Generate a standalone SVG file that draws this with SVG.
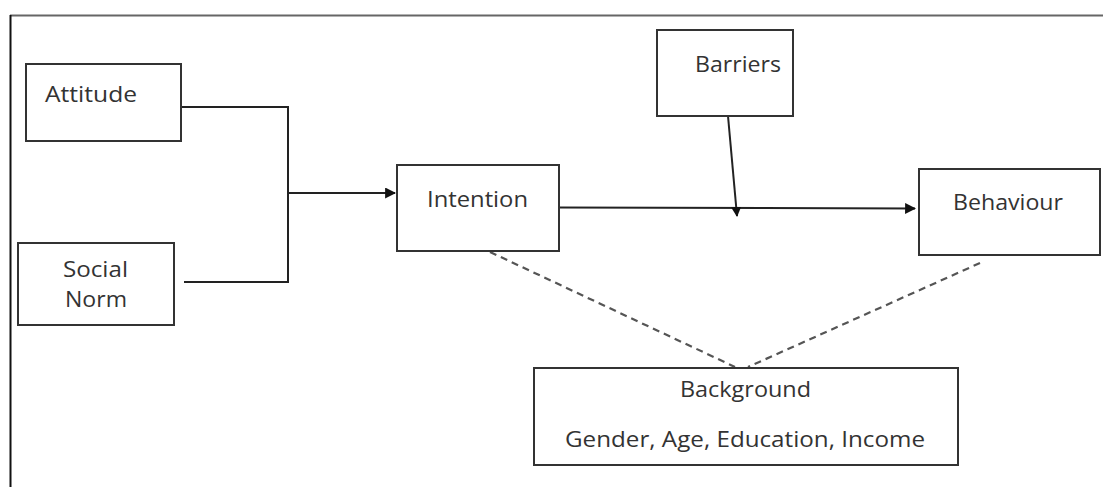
<svg xmlns="http://www.w3.org/2000/svg" width="1103" height="487" viewBox="0 0 1103 487">
<style>
.box{fill:#fff;stroke:#333;stroke-width:2}
.t{font-family:"Open Sans","Liberation Sans",sans-serif;font-size:21px;fill:#333}
.c{fill:none;stroke:#222;stroke-width:2}
.d{fill:none;stroke:#555;stroke-width:2.2;stroke-dasharray:7,5}
</style>
<defs>
<marker id="ah" viewBox="0 0 10 10" refX="9" refY="5" markerWidth="10" markerHeight="10" markerUnits="userSpaceOnUse" orient="auto">
<path d="M0,0 L10,5 L0,10 z" fill="#111"/>
</marker>
<marker id="ah2" viewBox="0 0 10 10" refX="9" refY="5" markerWidth="11" markerHeight="11" markerUnits="userSpaceOnUse" orient="auto">
<path d="M0,0 L10,5 L0,10 z" fill="#111"/>
</marker>
</defs>
<rect width="1103" height="487" fill="#fff"/>
<g id="frame">
<line x1="10" y1="15.5" x2="1103" y2="15.5" stroke="#666" stroke-width="2"/>
<line x1="10.5" y1="15" x2="10.5" y2="487" stroke="#111" stroke-width="2"/>
</g>
<g id="connectors">
<polyline class="c" points="181,107 288,107 288,282 184,282"/>
<line class="c" x1="288" y1="193" x2="395" y2="193" marker-end="url(#ah2)"/>
<line class="c" x1="559" y1="207.5" x2="915" y2="208.5" marker-end="url(#ah2)"/>
<line class="c" x1="728" y1="116" x2="737" y2="216" marker-end="url(#ah)"/>
<line class="d" x1="490" y1="252" x2="735" y2="367"/>
<line class="d" x1="980" y1="263" x2="748" y2="367"/>
</g>
<g id="attitude">
<rect class="box" x="26" y="64" width="155" height="77"/>
<text class="t" x="45" y="102" textLength="92" lengthAdjust="spacingAndGlyphs">Attitude</text>
</g>
<g id="social-norm">
<rect class="box" x="18" y="243" width="156" height="82"/>
<text class="t" x="63" y="277" textLength="65" lengthAdjust="spacingAndGlyphs">Social</text>
<text class="t" x="65" y="307" textLength="62" lengthAdjust="spacingAndGlyphs">Norm</text>
</g>
<g id="intention">
<rect class="box" x="397" y="165" width="162" height="86"/>
<text class="t" x="427" y="207" textLength="101" lengthAdjust="spacingAndGlyphs">Intention</text>
</g>
<g id="barriers">
<rect class="box" x="657" y="30" width="136" height="86"/>
<text class="t" x="695" y="72" textLength="86" lengthAdjust="spacingAndGlyphs">Barriers</text>
</g>
<g id="behaviour">
<rect class="box" x="919" y="169" width="181" height="86"/>
<text class="t" x="953" y="210" textLength="110" lengthAdjust="spacingAndGlyphs">Behaviour</text>
</g>
<g id="background">
<rect class="box" x="534" y="368" width="424" height="97"/>
<text class="t" x="680" y="397" textLength="131" lengthAdjust="spacingAndGlyphs">Background</text>
<text class="t" x="565" y="447" textLength="360" lengthAdjust="spacingAndGlyphs">Gender, Age, Education, Income</text>
</g>
</svg>
